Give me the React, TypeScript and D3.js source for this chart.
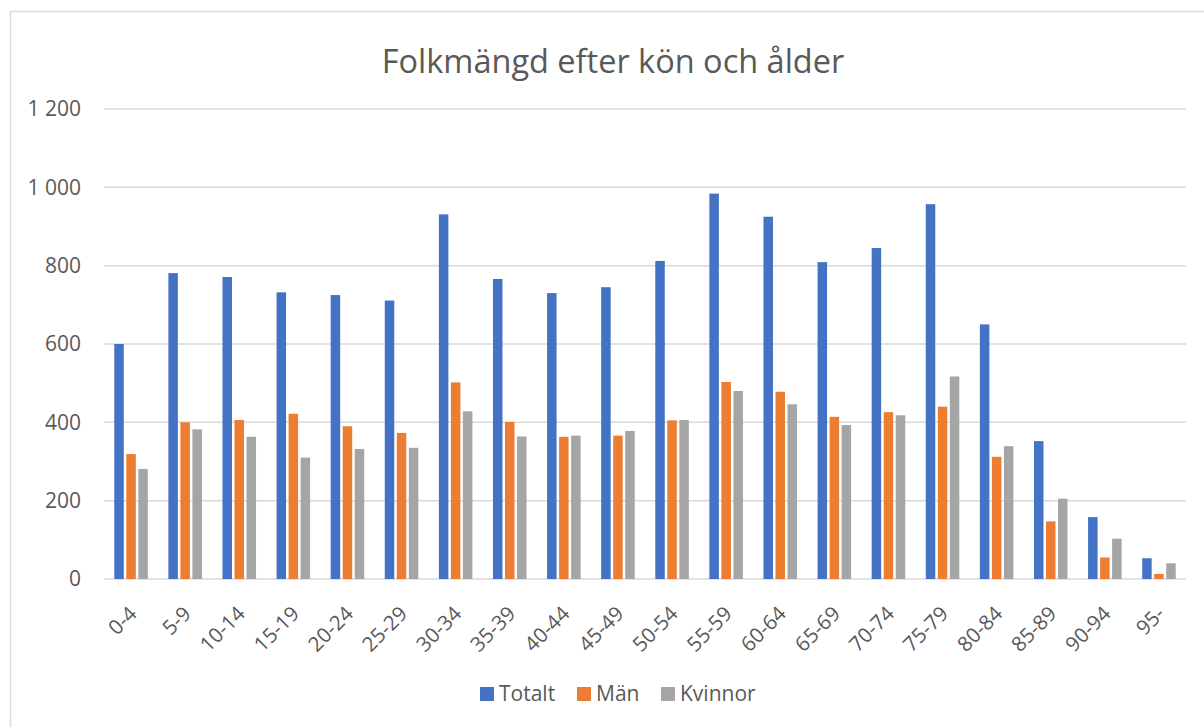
import React, { useEffect, useRef } from 'react';
import * as d3 from 'd3';

const categories = ['0-4', '5-9', '10-14', '15-19', '20-24', '25-29', '30-34', '35-39', '40-44', '45-49',
  '50-54', '55-59', '60-64', '65-69', '70-74', '75-79', '80-84', '85-89', '90-94', '95-'];
const totalt = [600, 781, 771, 732, 725, 711, 931, 766, 730, 745, 812, 984, 925, 809, 845, 957, 650, 352, 158, 53];
const man = [319, 400, 406, 422, 390, 373, 502, 401, 363, 366, 405, 503, 478, 414, 426, 440, 312, 147, 55, 13];
const kvinnor = [281, 382, 363, 310, 332, 335, 428, 364, 366, 378, 406, 480, 446, 393, 418, 517, 339, 205, 103, 40];
const seriesNames = ['Totalt', 'Män', 'Kvinnor'];
const colors = ['#4472C4', '#ED7D31', '#A5A5A5'];
const yTicks = [0, 200, 400, 600, 800, 1000, 1200];

const W = 1204;
const H = 727;
const FONT = '"Open Sans", "DejaVu Sans", sans-serif';
const TEXT = '#595959';

const App = () => {
  const ref = useRef<SVGSVGElement>(null);

  useEffect(() => {
    const svg = d3.select(ref.current);
    svg.selectAll('*').remove();

    const margin = { left: 104, right: 18, top: 109, bottom: 148 };
    const x = d3.scaleBand().domain(categories).range([margin.left, W - margin.right]).paddingInner(0.38).paddingOuter(0.19);
    const xs = d3.scaleBand().domain(seriesNames).range([0, x.bandwidth()]).paddingInner(0.21);
    const y = d3.scaleLinear().domain([0, 1200]).range([H - margin.bottom, margin.top]);

    // chart frame
    svg.append('rect')
      .attr('x', 10.5).attr('y', 11.5)
      .attr('width', W + 20).attr('height', H + 20)
      .attr('fill', 'white').attr('stroke', '#D9D9D9').attr('stroke-width', 1.5);

    // title
    svg.append('text')
      .attr('x', 613).attr('y', 73)
      .attr('text-anchor', 'middle')
      .style('font-family', FONT).style('font-size', '32.5px')
      .attr('fill', TEXT)
      .text('Folkmängd efter kön och ålder');

    // gridlines
    svg.append('g').selectAll('line').data(yTicks).join('line')
      .attr('x1', margin.left).attr('x2', W - margin.right)
      .attr('y1', (d) => y(d)).attr('y2', (d) => y(d))
      .attr('stroke', '#D9D9D9').attr('stroke-width', 1.5);

    // y labels
    const fmt = (d: number) => d3.format(',')(d).replace(',', ' ');
    svg.append('g').selectAll('text').data(yTicks).join('text')
      .attr('x', 81).attr('y', (d) => y(d))
      .attr('dy', '0.35em').attr('text-anchor', 'end')
      .style('font-family', FONT).style('font-size', '21px')
      .attr('fill', TEXT)
      .text((d) => fmt(d));

    // bars
    const data = [totalt, man, kvinnor];
    data.forEach((vals, si) => {
      svg.append('g').selectAll('rect').data(vals).join('rect')
        .attr('x', (d, i) => (x(categories[i]) as number) + (xs(seriesNames[si]) as number))
        .attr('width', xs.bandwidth())
        .attr('y', (d) => y(d))
        .attr('height', (d) => y(0) - y(d))
        .attr('fill', colors[si]);
    });

    // x labels
    svg.append('g').selectAll('text').data(categories).join('text')
      .attr('transform', (d) => `translate(${(x(d) as number) + x.bandwidth() / 2 + 2},${y(0) + 31}) rotate(-45)`)
      .attr('text-anchor', 'end').attr('dy', '0.35em')
      .style('font-family', FONT).style('font-size', '20.5px')
      .attr('fill', TEXT)
      .text((d) => d);

    // legend
    const legendX = [480, 577, 661];
    const lg = svg.append('g');
    seriesNames.forEach((name, i) => {
      lg.append('rect')
        .attr('x', legendX[i]).attr('y', 687)
        .attr('width', 14).attr('height', 14)
        .attr('fill', colors[i]);
      lg.append('text')
        .attr('x', legendX[i] + 19).attr('y', 694)
        .attr('dy', '0.35em')
        .style('font-family', FONT).style('font-size', '21px')
        .attr('fill', TEXT)
        .text(name);
    });
  }, []);

  return (
    <svg ref={ref} width={W} height={H} style={{ position: 'absolute', left: 0, top: 0 }} />
  );
};

export default App;
